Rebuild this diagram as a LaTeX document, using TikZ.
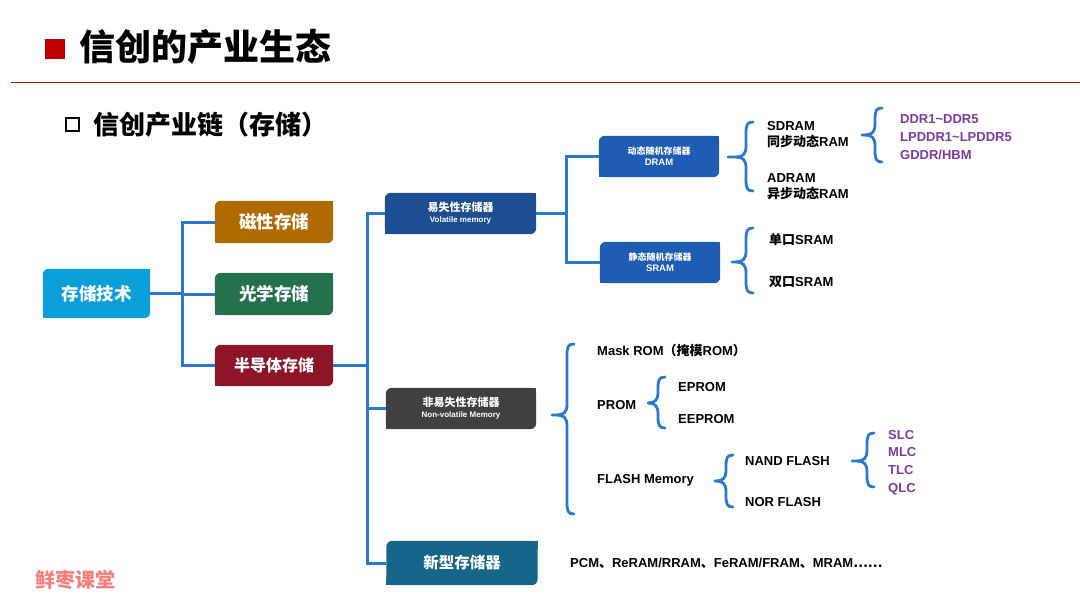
\documentclass[tikz,border=0pt]{standalone}
\usepackage{fontspec}
\setmainfont{Liberation Sans}
\newfontfamily\zhfont{Noto Sans CJK SC}
\newcommand\zh[1]{{\zhfont #1}}
\usetikzlibrary{calc}
\definecolor{cRoot}{HTML}{0C9ED9}
\definecolor{cMag}{HTML}{B06A02}
\definecolor{cOpt}{HTML}{25704D}
\definecolor{cSemi}{HTML}{8C1628}
\definecolor{cVol}{HTML}{1E4E92}
\definecolor{cRam}{HTML}{1F5CB3}
\definecolor{cNv}{HTML}{404040}
\definecolor{cNew}{HTML}{16658A}
\definecolor{cLine}{HTML}{2B79CF}
\definecolor{cPur}{HTML}{7B3BA6}
\definecolor{cRed}{HTML}{C00000}
\definecolor{cMark}{HTML}{F57E7E}
\pgfdeclarelayer{bg}
\pgfsetlayers{bg,main}
\newcommand\leaf[2]{%
  \fill[#2,rounded corners=6pt] (#1.north west) rectangle (#1.south east);
  \fill[#2] (#1.north east) rectangle ([xshift=-8pt,yshift=-8pt]#1.north east);
  \fill[#2] (#1.south west) rectangle ([xshift=8pt,yshift=8pt]#1.south west);}
% curly brace: #1 x of ends, #2 y top, #3 y tip, #4 y bottom, #5 x of tip
\newcommand\curly[5]{%
  \pgfmathsetmacro\xb{#1-7}%
  \pgfmathsetmacro\xd{#1-6}%
  \pgfmathsetmacro\xc{#1-17}%
  \pgfmathsetmacro\xe{#1-10}%
  \pgfmathsetmacro\ya{#2+12}%
  \pgfmathsetmacro\yaa{#2+3}%
  \pgfmathsetmacro\yb{#3-11}%
  \pgfmathsetmacro\ybb{#3-3}%
  \pgfmathsetmacro\yc{#3+11}%
  \pgfmathsetmacro\ycc{#3+3}%
  \pgfmathsetmacro\yd{#4-12}%
  \pgfmathsetmacro\ydd{#4-3}%
  \draw[brcs] (#1,#2) .. controls (\xd,#2) and (\xb,\yaa) .. (\xb,\ya) -- (\xb,\yb) .. controls (\xb,\ybb) and (\xe,#3) .. (\xc,#3) -- (#5,#3);
  \draw[brcs] (#1,#4) .. controls (\xd,#4) and (\xb,\ydd) .. (\xb,\yd) -- (\xb,\yc) .. controls (\xb,\ycc) and (\xe,#3) .. (\xc,#3);}
\begin{document}
\begin{tikzpicture}[x=1pt,y=-1pt,
  leafbox/.style={inner sep=0pt,text=white,align=center},
  conn/.style={draw=cLine,line width=3pt},
  brcs/.style={draw=cLine,line width=2.8pt,line cap=round},
  txt/.style={anchor=west,inner sep=0pt,align=left,font=\bfseries\fontsize{13}{16}\selectfont}]
\useasboundingbox (0,0) rectangle (1080,608);
% header
\fill[cRed] (45,39) rectangle (65,59);
\node[anchor=west,inner sep=0pt,font=\bfseries\fontsize{36}{40}\selectfont] (title) at (79,47) {\zh{信创的产业生态}};
\draw[cRed,line width=1.8pt] (11,82.5) -- (1080,82.5);
\draw[line width=2pt] (66,118) rectangle (79,131);
\node[anchor=west,inner sep=0pt,font=\bfseries\fontsize{26}{30}\selectfont] (sub) at (93,124.5) {\zh{信创产业链（存储）}};
% boxes
\node[leafbox,minimum width=107pt,minimum height=49pt,font=\bfseries\fontsize{17.5}{20}\selectfont] (root) at (96.5,293.5) {\zh{存储技术}};
\node[leafbox,minimum width=118pt,minimum height=42pt,font=\bfseries\fontsize{17.5}{20}\selectfont] (mag) at (274,222) {\zh{磁性存储}};
\node[leafbox,minimum width=118pt,minimum height=42pt,font=\bfseries\fontsize{17.5}{20}\selectfont] (opt) at (274,294) {\zh{光学存储}};
\node[leafbox,minimum width=118pt,minimum height=41pt,font=\bfseries\fontsize{16}{20}\selectfont] (semi) at (274,365.5) {\zh{半导体存储}};
\node[leafbox,minimum width=151pt,minimum height=41pt] (vol) at (460.5,213.5)
  {{\bfseries\zhfont\fontsize{11}{12}\selectfont 易失性存储器}\\[-1pt]{\bfseries\fontsize{8}{9}\selectfont Volatile memory}};
\node[leafbox,minimum width=120pt,minimum height=41pt] (dram) at (659,156.5)
  {{\bfseries\zhfont\fontsize{9}{10}\selectfont 动态随机存储器}\\[-1pt]{\bfseries\fontsize{9.5}{10}\selectfont DRAM}};
\node[leafbox,minimum width=120pt,minimum height=41pt] (sram) at (660,262.5)
  {{\bfseries\zhfont\fontsize{9}{10}\selectfont 静态随机存储器}\\[-1pt]{\bfseries\fontsize{9.5}{10}\selectfont SRAM}};
\node[leafbox,minimum width=150pt,minimum height=41pt] (nonvol) at (461,408.5)
  {{\bfseries\zhfont\fontsize{11}{12}\selectfont 非易失性存储器}\\[-1pt]{\bfseries\fontsize{8}{9}\selectfont Non-volatile Memory}};
\node[leafbox,minimum width=151pt,minimum height=44pt,font=\bfseries\fontsize{15.5}{18}\selectfont] (new) at (462,563) {\zh{新型存储器}};
\begin{pgfonlayer}{bg}
\leaf{root}{cRoot}\leaf{mag}{cMag}\leaf{opt}{cOpt}\leaf{semi}{cSemi}
\leaf{vol}{cVol}\leaf{dram}{cRam}\leaf{sram}{cRam}\leaf{nonvol}{cNv}\leaf{new}{cNew}
\end{pgfonlayer}
% connectors
\coordinate (j1) at (182,293.5);
\coordinate (j2) at (367,365.5);
\coordinate (j3) at (566,213.5);
\draw[conn] (root.east) -- (j1);
\draw[conn] (mag.west) -| (j1);
\draw[conn] (semi.west) -| (j1);
\draw[conn] (opt.west) -- (opt.west -| j1);
\draw[conn] (semi.east) -- (j2);
\draw[conn] (vol.west) -| (j2);
\draw[conn] (nonvol.west) -| (j2);
\draw[conn] (new.west) -| (j2);
\draw[conn] (vol.east) -- (j3);
\draw[conn] (dram.west) -| (j3);
\draw[conn] (sram.west) -| (j3);
% braces
\curly{753}{122}{157}{191}{728}
\curly{882}{108}{135}{162}{862}
\curly{753}{228}{262}{293}{732}
\curly{574}{344}{415}{514}{552}
\curly{665}{377}{403}{428}{649}
\curly{733}{455}{481}{507}{715}
\curly{874}{433}{461}{487}{852}
% texts
\node[txt] (sdram) at (767,135) {SDRAM\\\zh{同步动态}RAM};
\node[txt] (adram) at (767,186.5) {ADRAM\\\zh{异步动态}RAM};
\node[txt,text=cPur,font=\bfseries\fontsize{13}{18}\selectfont] (ddr) at (900,137) {DDR1\textasciitilde DDR5\\LPDDR1\textasciitilde LPDDR5\\GDDR/HBM};
\node[txt] (sp) at (769,240) {\zh{单口}SRAM};
\node[txt] (dp) at (769,282) {\zh{双口}SRAM};
\node[txt] (mask) at (597,351) {Mask ROM\zh{（掩模}ROM\zh{）}};
\node[txt] (prom) at (597,405) {PROM};
\node[txt] (eprom) at (678,387) {EPROM};
\node[txt] (eeprom) at (678,419) {EEPROM};
\node[txt] (flash) at (597,480) {FLASH Memory};
\node[txt] (nand) at (745,461) {NAND FLASH};
\node[txt] (nor) at (745,502) {NOR FLASH};
\node[txt,text=cPur,font=\bfseries\fontsize{13}{17.7}\selectfont] (slc) at (888,462.5) {SLC\\MLC\\TLC\\QLC};
\node[txt] (pcm) at (570,563) {PCM\zh{、}ReRAM/RRAM\zh{、}FeRAM/FRAM\zh{、}MRAM\zh{……}};
\node[anchor=west,inner sep=0pt,text=cMark,font=\bfseries\fontsize{20}{24}\selectfont] (mark) at (35,580) {\zh{鲜枣课堂}};
\end{tikzpicture}
\end{document}
